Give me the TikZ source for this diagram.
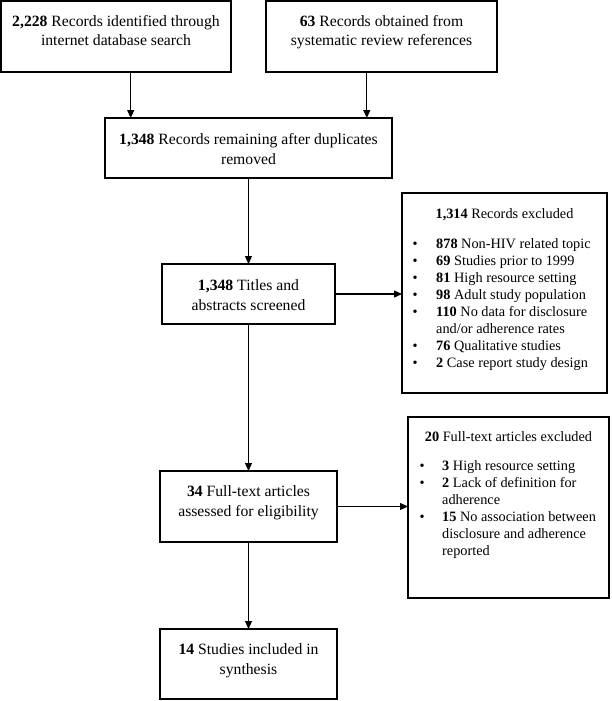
\documentclass[tikz,border=0pt]{standalone}
\usepackage{fontspec}
\setmainfont{Liberation Serif}
\usetikzlibrary{arrows.meta}
\newcommand\mybul[1]{\makebox[#1][l]{\textbullet}}
\begin{document}
\begin{tikzpicture}[x=1pt,y=-1pt,
  box/.style={draw, line width=1.2pt, inner sep=0pt, outer sep=0pt, anchor=north west},
  mtxt/.style={anchor=base, align=center, inner sep=0pt, font=\fontsize{15.7}{19.5}\selectfont},
  ttl/.style={anchor=base, align=center, inner sep=0pt, font=\fontsize{14.3}{17}\selectfont},
  ltxt/.style={anchor=base west, align=left, inner sep=0pt, font=\fontsize{14.3}{17.1}\selectfont},
  arr/.style={line width=1.2pt, -{Triangle[length=8pt,width=7pt]}}]
\useasboundingbox (0,0) rectangle (611,701);

% boxes
\node[box, minimum width=230pt, minimum height=71pt] (b1) at (1,1) {};
\node[box, minimum width=231pt, minimum height=71pt] (b2) at (266,1) {};
\node[box, minimum width=287pt, minimum height=60pt] (b3) at (105,118) {};
\node[box, minimum width=173pt, minimum height=60pt] (b4) at (162,264) {};
\node[box, minimum width=205pt, minimum height=200pt] (b5) at (402,193) {};
\node[box, minimum width=177pt, minimum height=71pt] (b6) at (160,471) {};
\node[box, minimum width=201pt, minimum height=181pt] (b7) at (408,417) {};
\node[box, minimum width=177pt, minimum height=70pt] (b8) at (160,629) {};

% texts (base anchor = baseline of last line)
\node[mtxt] (t1) at (116,46) {\textbf{2,228} Records identified through\\internet database search};
\node[mtxt] (t2) at (381.5,46) {\textbf{63} Records obtained from\\systematic review references};
\node[mtxt] (t3) at (248.5,164) {\textbf{1,348} Records remaining after duplicates\\removed};
\node[mtxt] (t4) at (248.5,310) {\textbf{1,348} Titles and\\abstracts screened};
\node[mtxt] (t6) at (248.5,516) {\textbf{34} Full-text articles\\assessed for eligibility};
\node[mtxt] (t8) at (248.5,674) {\textbf{14} Studies included in\\synthesis};

\node[ttl] (t5) at (504.5,218) {\textbf{1,314} Records excluded};
\node[ltxt] (l5) at (412.5,367.7) {%
\mybul{23.5pt}\textbf{878} Non-HIV related topic\\
\mybul{23.5pt}\textbf{69} Studies prior to 1999\\
\mybul{23.5pt}\textbf{81} High resource setting\\
\mybul{23.5pt}\textbf{98} Adult study population\\
\mybul{23.5pt}\textbf{110} No data for disclosure\\
\hspace*{23.5pt}and/or adherence rates\\
\mybul{23.5pt}\textbf{76} Qualitative studies\\
\mybul{23.5pt}\textbf{2} Case report study design};

\node[ttl] (t7) at (508.5,441) {\textbf{20} Full-text articles excluded};
\node[ltxt] (l7) at (419.5,555.5) {%
\mybul{22.5pt}\textbf{3} High resource setting\\
\mybul{22.5pt}\textbf{2} Lack of definition for\\
\hspace*{22.5pt}adherence\\
\mybul{22.5pt}\textbf{15} No association between\\
\hspace*{22.5pt}disclosure and adherence\\
\hspace*{22.5pt}reported};

% arrows
\draw[arr] ([xshift=14.7pt]b1.south) -- ([xshift=14.7pt]b1.south |- b3.north);
\draw[arr] ([xshift=-14.7pt]b2.south) -- ([xshift=-14.7pt]b2.south |- b3.north);
\draw[arr] (b3.south) -- (b4.north);
\draw[arr] (b4.east) -- (b4.east -| b5.west);
\draw[arr] (b4.south) -- (b6.north);
\draw[arr] (b6.east) -- (b6.east -| b7.west);
\draw[arr] (b6.south) -- (b8.north);
\end{tikzpicture}
\end{document}
